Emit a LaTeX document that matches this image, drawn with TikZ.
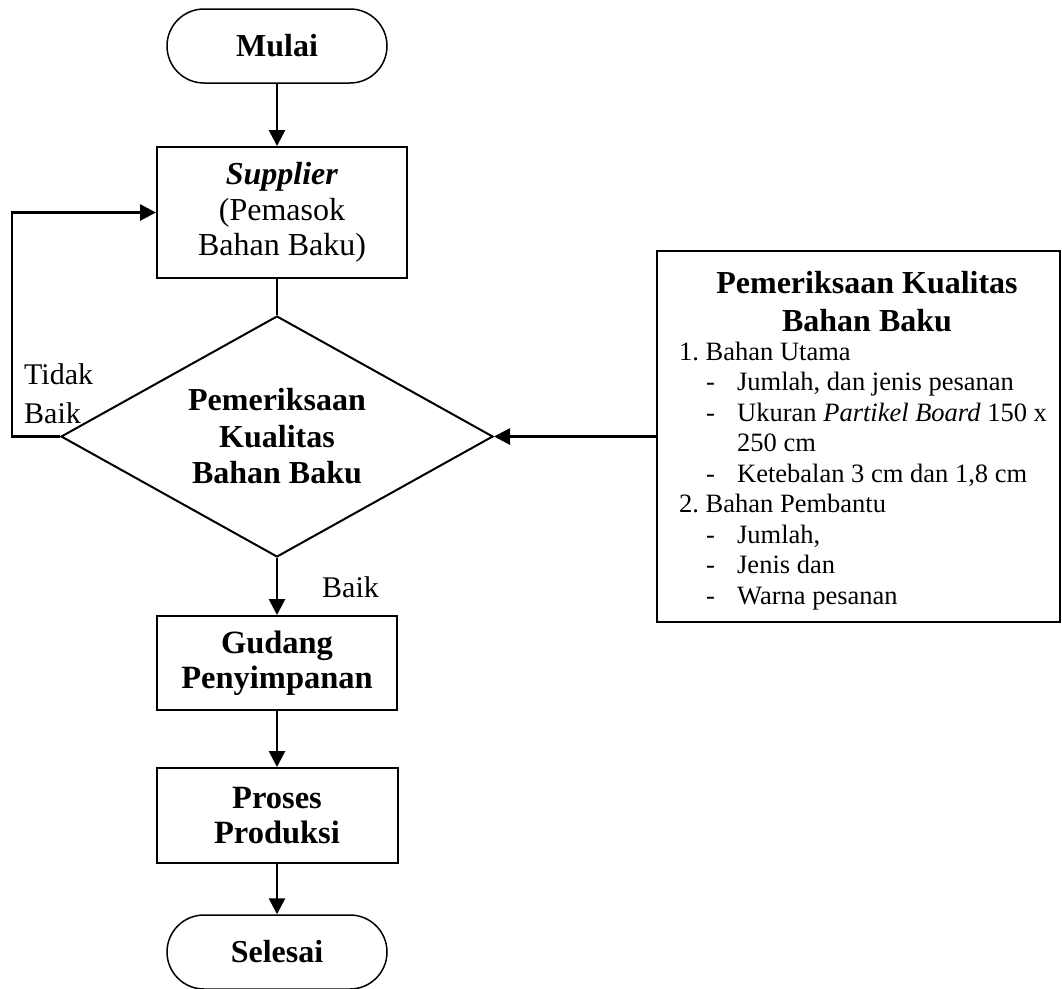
\documentclass[tikz,border=0pt]{standalone}
\usepackage{fontspec}
\setmainfont{Liberation Serif}
\usetikzlibrary{shapes.geometric,arrows.meta}

\begin{document}
\begin{tikzpicture}[x=1pt,y=-1pt,
  bigbold/.style={font=\fontsize{32}{36.5}\selectfont\bfseries},
  boxbold/.style={font=\fontsize{32.5}{35}\selectfont\bfseries},
  term/.style={draw, line width=1.5pt, rounded corners=37pt, minimum width=220pt,
    minimum height=74pt, inner sep=0pt, bigbold},
  proc/.style={draw, line width=2pt, inner sep=0pt, align=center},
  decision/.style={draw, shape=diamond, line width=2pt, aspect=1.79, minimum width=432pt,
    minimum height=241pt, inner sep=0pt, align=center, bigbold},
  lbl/.style={inner sep=0pt, anchor=base west, font=\fontsize{30}{36}\selectfont},
  title/.style={inner sep=0pt, anchor=base, font=\fontsize{32}{38}\selectfont\bfseries},
  item/.style={inner sep=0pt, anchor=base west, font=\fontsize{26.5}{30}\selectfont},
  ln/.style={line width=2.8pt},
  arr/.style={ln, -{Triangle[length=16pt,width=16pt]}}]

\useasboundingbox (0,0) rectangle (1062,988);

% main column
\node[term] (mulai) at (277,46) {Mulai};
\node[proc, minimum width=250pt, minimum height=131pt,
  font=\fontsize{32}{35.5}\selectfont] (supp) at (282,212.5)
  {\textbf{\textit{Supplier}}\\(Pemasok\\Bahan Baku)};
\node[decision] (dec) at (277,436.5) {Pemeriksaan\\Kualitas\\Bahan Baku};
\node[proc, boxbold, minimum width=240pt, minimum height=94pt] (gud) at (277,663)
  {Gudang\\Penyimpanan};
\node[proc, boxbold, minimum width=241pt, minimum height=95pt] (pro) at (277,815.5)
  {Proses\\Produksi};
\node[term] (sel) at (277,952) {Selesai};

% quality criteria box
\node[draw, line width=2pt, minimum width=403pt, minimum height=371pt, inner sep=0pt]
  (crit) at (858.5,436.5) {};
\node[title] (t1) at (867,293) {Pemeriksaan Kualitas};
\node[title] (t2) at (867,331) {Bahan Baku};
\node[item] (i1) at (679,360) {1.\ Bahan Utama};
\node[item] (i2) at (706,390.5) {\makebox[31pt][l]{-}Jumlah, dan jenis pesanan};
\node[item] (i3) at (706,421) {\makebox[31pt][l]{-}Ukuran \textit{Partikel Board} 150 x};
\node[item] (i4) at (737,451.5) {250 cm};
\node[item] (i5) at (706,482) {\makebox[31pt][l]{-}Ketebalan 3 cm dan 1,8 cm};
\node[item] (i6) at (679,512.5) {2.\ Bahan Pembantu};
\node[item] (i7) at (706,543) {\makebox[31pt][l]{-}Jumlah,};
\node[item] (i8) at (706,573.5) {\makebox[31pt][l]{-}Jenis dan};
\node[item] (i9) at (706,604) {\makebox[31pt][l]{-}Warna pesanan};

% branch labels
\node[lbl] (tidak) at (24,384) {Tidak};
\node[lbl] (tbaik) at (24,423) {Baik};
\node[lbl] (baik) at (322,597) {Baik};

% connectors
\draw[arr] (mulai) -- (supp.north -| mulai);
\draw[ln] (supp.south -| dec) -- (dec.north);
\draw[arr] (dec.south) -- (gud.north);
\draw[arr] (gud) -- (pro);
\draw[arr] (pro) -- (sel);
\draw[arr] (crit.west) -- (dec.east);
\coordinate (loop) at (12,436.5);
\draw[arr] (dec.west) -- (loop) |- (supp.west);
\end{tikzpicture}
\end{document}
